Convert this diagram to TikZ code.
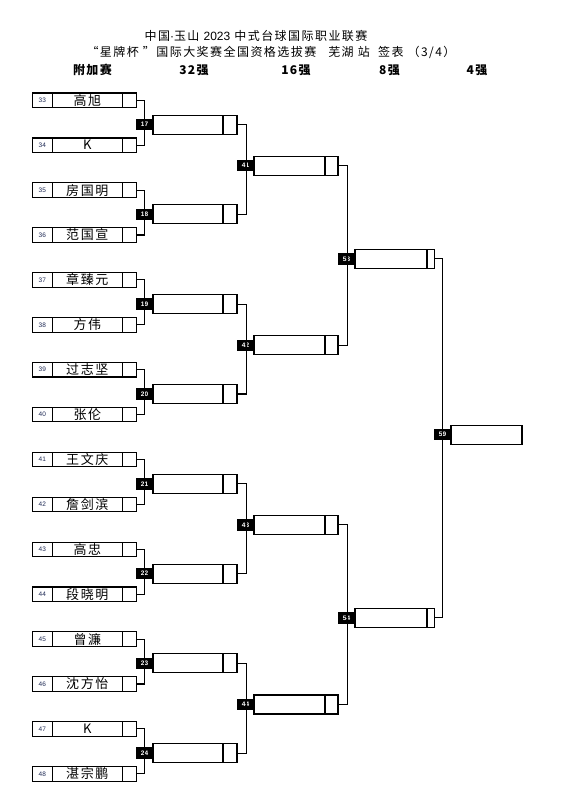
\documentclass[tikz,border=0pt]{standalone}
\usepackage{fontspec}
\setmainfont{Liberation Sans}
\newfontfamily\cjk{Noto Sans CJK SC}[LetterSpace=12]
\usetikzlibrary{positioning}
\definecolor{seednavy}{HTML}{1F2A55}

\tikzset{
  wire/.style={line width=1.1pt},
  cell/.style={draw,line width=1.1pt,inner sep=0pt,outer sep=0pt},
  seedcell/.style={cell,minimum width=20pt,minimum height=14.5pt,text=seednavy,font=\fontsize{6.5}{6.5}\selectfont},
  namecell/.style={cell,minimum width=70pt,minimum height=14.5pt,font=\cjk\fontsize{13}{13}\selectfont},
  scorecell/.style={cell,minimum width=14pt,minimum height=14.5pt},
  matchbox/.style={cell,minimum height=19pt},
  tag/.style={fill=black,inner sep=0pt,outer sep=0pt,minimum width=17pt,minimum height=11.5pt,text=white,font=\bfseries\fontsize{6.5}{6.5}\selectfont},
  headtext/.style={inner sep=0pt,font=\cjk\fontsize{12}{13}\selectfont},
  roundtext/.style={inner sep=0pt,font=\cjk\bfseries\fontsize{12}{13}\selectfont}
}

\begin{document}
\begin{tikzpicture}[x=1pt,y=-1pt]
  \useasboundingbox (0,0) rectangle (563,789);
  % header
  \node[headtext] (title) at (256,36) {中国{\rmfamily·}玉山 {\rmfamily 2023} 中式台球国际职业联赛};
  \node[headtext] (subtitle) at (271,52) {“星牌杯 ”国际大奖赛全国资格选拔赛\quad 芜湖 站\ \ 签表 （3/4）};
  \foreach \cx/\lbl [count=\k] in {92.5/附加赛,194/32强,296/16强,389.5/8强,477/4强}{\node[roundtext] (round\k) at (\cx,70) {\lbl};}
  % players
  \foreach \sd/\who [count=\i from 0] in {33/高旭,34/K,35/房国明,36/范国宣,37/章臻元,38/方伟,39/过志坚,40/张伦,41/王文庆,42/詹剑滨,43/高忠,44/段晓明,45/曾濂,46/沈方怡,47/K,48/湛宗鹏}{
    \pgfmathsetmacro{\yy}{100.3+44.9*\i}
    \node[seedcell] (ps\sd) at (42.3,\yy) {\sd};
    \node[namecell,right=0pt of ps\sd] (pn\sd) {\who};
    \node[scorecell,right=0pt of pn\sd] (pr\sd) {};
  }
  % round of 32
  \foreach \mm [count=\j from 0] in {17,...,24}{
    \pgfmathsetmacro{\yy}{124.6+89.8*\j}
    \pgfmathtruncatemacro{\ta}{33+2*\j}\pgfmathtruncatemacro{\tb}{34+2*\j}
    \node[tag] (mt\mm) at (144.5,\yy) {\mm};
    \node[matchbox,minimum width=70pt,right=0pt of mt\mm] (mb\mm) {};
    \node[matchbox,minimum width=14pt,right=0pt of mb\mm] (mr\mm) {};
    \draw[wire] (pr\ta.east) -- ++(8.5,0) |- (pr\tb.east);
  }
  % round of 16
  \foreach \mm [count=\j from 0] in {41,...,44}{
    \pgfmathsetmacro{\yy}{165.7+179.6*\j}
    \pgfmathtruncatemacro{\ta}{17+2*\j}\pgfmathtruncatemacro{\tb}{18+2*\j}
    \node[tag] (mt\mm) at (245.5,\yy) {\mm};
    \node[matchbox,minimum width=71pt,right=0pt of mt\mm] (mb\mm) {};
    \node[matchbox,minimum width=13pt,right=0pt of mb\mm] (mr\mm) {};
    \draw[wire] (mr\ta.east) -- ++(9.3,0) |- (mr\tb.east);
  }
  % last eight
  \foreach \mm [count=\j from 0] in {53,54}{
    \pgfmathsetmacro{\yy}{258.8+359*\j}
    \pgfmathtruncatemacro{\ta}{41+2*\j}\pgfmathtruncatemacro{\tb}{42+2*\j}
    \node[tag] (mt\mm) at (346.5,\yy) {\mm};
    \node[matchbox,minimum width=72pt,right=0pt of mt\mm] (mb\mm) {};
    \node[matchbox,minimum width=7.5pt,right=0pt of mb\mm] (mr\mm) {};
    \draw[wire] (mr\ta.east) -- ++(9.3,0) |- (mr\tb.east);
  }
  % last four
  \node[tag] (mt59) at (442.5,434.7) {59};
  \node[matchbox,minimum width=71pt,right=0pt of mt59] (mb59) {};
  \draw[wire] (mr53.east) -- ++(8,0) |- (mr54.east);
\end{tikzpicture}
\end{document}
